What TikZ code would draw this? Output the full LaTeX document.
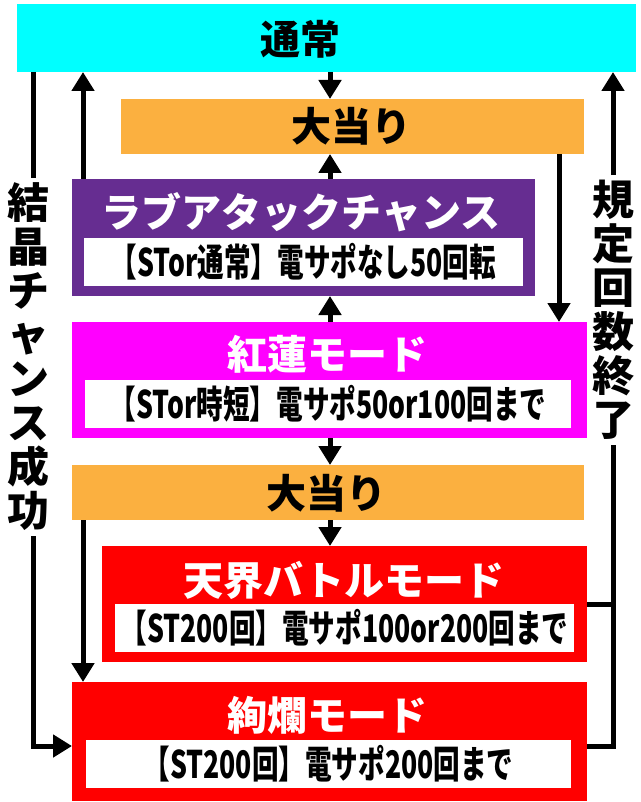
\documentclass[tikz,border=0pt]{standalone}
\usepackage{fontspec}
\newfontfamily\jpfont{Noto Sans CJK JP Black}
\newfontfamily\jpnarrow{Noto Sans CJK JP Black}[FakeStretch=0.7]
\usetikzlibrary{arrows.meta}
\definecolor{tsujocyan}{HTML}{00FFFF}
\definecolor{oatariorange}{HTML}{FBB040}
\definecolor{lovepurple}{HTML}{662D91}
\definecolor{gurenmagenta}{HTML}{FF00FF}
\definecolor{modered}{HTML}{FF0000}
\tikzset{
    panel/.style={
        rectangle,
        inner sep=0pt,
        outer sep=0pt
    },
    title/.style={
        font=\jpfont\fontsize{40}{40}\selectfont,
        inner sep=0pt
    },
    subbox/.style={
        panel,
        fill=white,
        minimum height=48pt,
        font=\jpnarrow\fontsize{38}{38}\selectfont
    },
    flow/.style={
        line width=5pt,
        -{Triangle[length=19pt,width=22pt]}
    },
    sideline/.style={
        line width=5pt
    },
    sidetext/.style={
        font=\jpfont\fontsize{42}{44}\selectfont,
        align=center,
        inner xsep=0pt,
        inner ysep=5pt
    }
}

\begin{document}
\begin{tikzpicture}[x=1pt,y=-1pt]
\useasboundingbox (0,0) rectangle (640,802);
\coordinate (mid) at (330,0);
\coordinate (inl) at (83,0);
\coordinate (inr) at (559,0);
\coordinate (farl) at (33,0);
\coordinate (farr) at (613,0);
\coordinate (kenranrow) at (0,746);

\node[panel,fill=tsujocyan,minimum width=619pt,minimum height=68pt] (tsujo) at (326.5,38) {};
\node[title] (tsujotext) at (300,39) {通常};
\node[panel,fill=oatariorange,minimum width=463pt,minimum height=55pt] (oatari1) at (352.5,126.5) {};
\node[title] (oatari1text) at (351,126) {大当り};

\node[panel,fill=lovepurple,minimum width=463pt,minimum height=117pt] (love) at (303.5,237.5) {};
\node[title,text=white] (lovetext) at (301,212) {ラブアタックチャンス};
\node[subbox,minimum width=439pt] (lovesub) at (303.5,261.5) {【STor通常】電サポなし50回転};

\node[panel,fill=gurenmagenta,minimum width=515pt,minimum height=116pt] (guren) at (329.5,380) {};
\node[title,text=white] (gurentext) at (327,354) {紅蓮モード};
\node[subbox,minimum width=486pt] (gurensub) at (328,404) {【STor時短】電サポ50or100回まで};

\node[panel,fill=oatariorange,minimum width=512pt,minimum height=55pt] (oatari2) at (328,492.5) {};
\node[title] (oatari2text) at (326,493) {大当り};

\node[panel,fill=modered,minimum width=485pt,minimum height=116pt] (tenkai) at (344.5,604) {};
\node[title,text=white] (tenkaitext) at (344,580) {天界バトルモード};
\node[subbox,minimum width=459pt] (tenkaisub) at (344.5,628) {【ST200回】電サポ100or200回まで};

\node[panel,fill=modered,minimum width=515pt,minimum height=119pt] (kenran) at (329.5,741.5) {};
\node[title,text=white] (kenrantext) at (327,715) {絢爛モード};
\node[subbox,minimum width=485pt] (kenransub) at (328.5,764) {【ST200回】電サポ200回まで};

\node[sidetext] (kessho) at (28,357) {結\\晶\\チ\\ャ\\ン\\ス\\成\\功};
\node[sidetext] (kitei) at (613,310) {規\\定\\回\\数\\終\\了};

\draw[flow] (tsujo.south -| mid) -- (oatari1.north -| mid);
\draw[flow] (love.north -| mid) -- (oatari1.south -| mid);
\draw[flow] (love.north -| inl) -- (tsujo.south -| inl);
\draw[flow] (oatari1.south -| inr) -- (guren.north -| inr);
\draw[flow] (guren.north -| mid) -- (love.south -| mid);
\draw[flow] (guren.south -| mid) -- (oatari2.north -| mid);
\draw[flow] (oatari2.south -| mid) -- (tenkai.north -| mid);
\draw[flow] (oatari2.south -| inl) -- (kenran.north -| inl);

\draw[sideline] (tsujo.south -| farl) -- (kessho.north -| farl);
\draw[flow] (kessho.south -| farl) |- (kenran.west |- kenranrow);
\draw[sideline] (kenran.east |- kenranrow) -| (kitei.south -| farr);
\draw[sideline] (tenkai.east) -- (tenkai.east -| farr);
\draw[flow] (kitei.north -| farr) -- (tsujo.south -| farr);
\end{tikzpicture}
\end{document}
